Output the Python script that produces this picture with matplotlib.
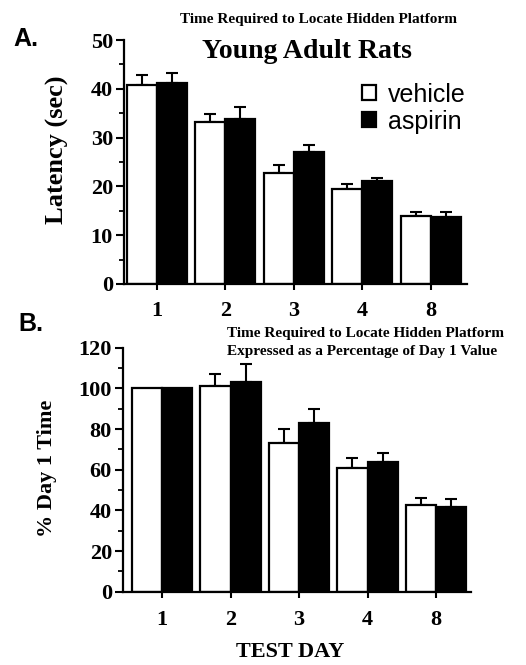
# Water maze latency, young adult rats: vehicle vs aspirin
import numpy as np
import matplotlib
matplotlib.use('Agg')
import matplotlib.pyplot as plt
from matplotlib.ticker import MultipleLocator

# DATA
# -----------------------------------------------------------------------------------------------
days = ['1', '2', '3', '4', '8']
groups = ['vehicle', 'aspirin']

latency_vehicle = [40.8, 33.1, 22.8, 19.4, 13.9]
latency_vehicle_err = [2.0, 1.8, 1.6, 1.0, 0.85]
latency_aspirin = [41.1, 33.8, 27.0, 21.1, 13.8]
latency_aspirin_err = [2.2, 2.5, 1.4, 0.7, 0.95]

pct_vehicle = [100.0, 101.0, 73.0, 61.0, 42.6]
pct_vehicle_err = [0.0, 6.0, 7.0, 5.0, 3.6]
pct_aspirin = [100.0, 103.0, 83.0, 64.0, 41.5]
pct_aspirin_err = [0.0, 8.8, 6.7, 4.4, 4.1]

SERIF = 'Liberation Serif'
SANS = 'Liberation Sans'

# AUX METHODS
# -----------------------------------------------------------------------------------------------

def drawPanel(ax, veh, veh_err, asp, asp_err, ymax, ystep, yminor, xlim):
    x = np.arange(len(days))
    w = 0.44
    ax.bar(x - w / 2, veh, width=w, color='white', edgecolor='black', linewidth=1.6,
           label=groups[0], zorder=2)
    ax.bar(x + w / 2, asp, width=w, color='black', edgecolor='black', linewidth=1.6,
           label=groups[1], zorder=2)
    for xs, ys, es in [(x - w / 2, veh, veh_err), (x + w / 2, asp, asp_err)]:
        e = np.array(es)
        ax.errorbar(xs[e > 0], np.array(ys)[e > 0], yerr=[np.zeros((e > 0).sum()), e[e > 0]],
                    fmt='none', ecolor='black', elinewidth=1.5, capsize=4.5, capthick=1.5,
                    zorder=1)

    ax.set_xlim(*xlim)
    ax.set_ylim(0, ymax)
    ax.set_xticks(x)
    ax.set_xticklabels(days)
    ax.yaxis.set_major_locator(MultipleLocator(ystep))
    ax.yaxis.set_minor_locator(MultipleLocator(yminor))
    ax.spines['top'].set_visible(False)
    ax.spines['right'].set_visible(False)
    ax.spines['left'].set_linewidth(1.6)
    ax.spines['bottom'].set_linewidth(1.6)
    ax.tick_params(axis='y', which='major', direction='out', length=6, width=1.5, pad=2)
    ax.tick_params(axis='y', which='minor', direction='out', length=3.5, width=1.3)
    ax.tick_params(axis='x', which='major', direction='out', length=4, width=1.5, pad=8)
    for lab in ax.get_yticklabels():
        lab.set_fontfamily(SERIF)
        lab.set_fontweight('bold')
        lab.set_fontsize(16)
    for lab in ax.get_xticklabels():
        lab.set_fontfamily(SERIF)
        lab.set_fontweight('bold')
        lab.set_fontsize(16)

# MAIN
# -----------------------------------------------------------------------------------------------

fig = plt.figure(figsize=(5.26, 6.65), dpi=100)

axA = fig.add_axes([124 / 526, 1 - 284 / 665, 343 / 526, 244 / 665])
drawPanel(axA, latency_vehicle, latency_vehicle_err, latency_aspirin, latency_aspirin_err,
          50, 10, 5, (-0.48, 4.53))
axA.legend(loc='upper left', bbox_to_anchor=(0.695, 0.825), frameon=False,
           prop={'family': SANS, 'size': 18}, handlelength=0.56, handleheight=0.56,
           handletextpad=0.45, labelspacing=0.12, borderaxespad=0, borderpad=0)

axB = fig.add_axes([123 / 526, 1 - 591.7 / 665, 348 / 526, 244 / 665])
drawPanel(axB, pct_vehicle, pct_vehicle_err, pct_aspirin, pct_aspirin_err,
          120, 20, 10, (-0.57, 4.51))
axB.tick_params(axis='x', pad=9)

# titles and labels
fig.text(319 / 526, 1 - 20 / 665, 'Time Required to Locate Hidden Platform', ha='center',
         va='center', family=SERIF, weight='bold', fontsize=11)
fig.text(307 / 526, 1 - 51 / 665, 'Young Adult Rats', ha='center', va='center',
         family=SERIF, weight='bold', fontsize=20)
fig.text(227 / 526, 1 - 333 / 665, 'Time Required to Locate Hidden Platform', ha='left',
         va='center', family=SERIF, weight='bold', fontsize=11)
fig.text(227 / 526, 1 - 352 / 665, 'Expressed as a Percentage of Day 1 Value', ha='left',
         va='center', family=SERIF, weight='bold', fontsize=11)
fig.text(57 / 526, 1 - 150 / 665, 'Latency (sec)', rotation=90, ha='center', va='center',
         family=SERIF, weight='bold', fontsize=19)
fig.text(47 / 526, 1 - 468 / 665, '% Day 1 Time', rotation=90, ha='center', va='center',
         family=SERIF, weight='bold', fontsize=16)
fig.text(290 / 526, 1 - 652 / 665, 'TEST DAY', ha='center', va='center',
         family=SERIF, weight='bold', fontsize=16)
fig.text(26 / 526, 1 - 39 / 665, 'A.', ha='center', va='center', family=SANS,
         weight='bold', fontsize=18)
fig.text(31 / 526, 1 - 324 / 665, 'B.', ha='center', va='center', family=SANS,
         weight='bold', fontsize=18)

fig.savefig('out.png', dpi=100)
